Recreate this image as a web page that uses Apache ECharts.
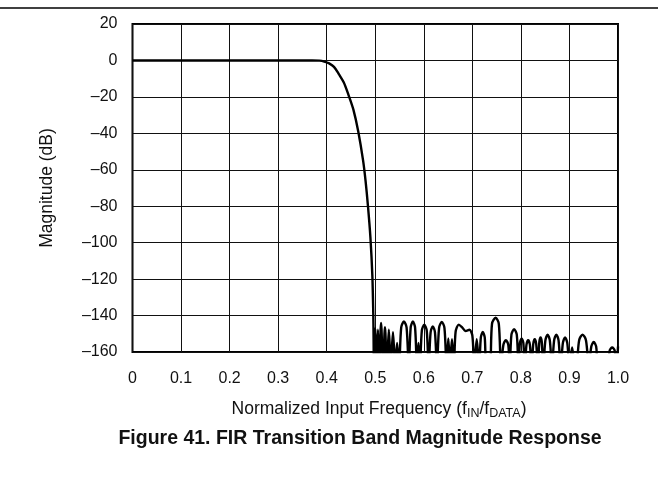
<!DOCTYPE html>
<html>
<head>
<meta charset="utf-8">
<script src="https://cdn.jsdelivr.net/npm/echarts@6/dist/echarts.min.js"></script>
<style>
html,body{margin:0;padding:0;background:#fff;}
#chart{width:658px;height:493px;}
</style>
</head>
<body>
<div id="chart"></div>
<script>
// ---- data ----
var xTickValues = [0, 0.1, 0.2, 0.3, 0.4, 0.5, 0.6, 0.7, 0.8, 0.9, 1.0];
var xTickLabels = ['0', '0.1', '0.2', '0.3', '0.4', '0.5', '0.6', '0.7', '0.8', '0.9', '1.0'];
var yTickValues = [20, 0, -20, -40, -60, -80, -100, -120, -140, -160];
var yTickLabels = ['20', '0', '\u201320', '\u201340', '\u201360', '\u201380', '\u2013100', '\u2013120', '\u2013140', '\u2013160'];

// passband + transition band: normalized freq and magnitude (dB)
var transitionFreq = [0, 0.37, 0.385, 0.395, 0.405, 0.415, 0.425, 0.435, 0.445, 0.455, 0.465, 0.475, 0.48, 0.485, 0.49, 0.494, 0.496];
var transitionDb   = [0, 0, -0.1, -0.6, -1.6, -3.5, -7.5, -12, -19, -27, -39, -55, -66, -80, -97, -118, -140];

// stopband ripple: nulls (deep, below the -160 dB floor), lobe flanks and lobe peaks
var stopbandFreq = [
  0.4975, 0.500, 0.503, 0.5055, 0.508, 0.512, 0.516, 0.520, 0.524, 0.528, 0.532, 0.5365, 0.541,
  0.545, 0.549, 0.5535, 0.559, 0.5645, 0.569, 0.573, 0.5775, 0.582, 0.586, 0.589, 0.592,
  0.596, 0.601, 0.606, 0.610, 0.614, 0.6185, 0.623, 0.627, 0.6315, 0.637, 0.6425, 0.647,
  0.6505, 0.654, 0.658, 0.662, 0.6655, 0.672, 0.679, 0.686, 0.694, 0.700, 0.704,
  0.709, 0.714, 0.7175, 0.7215, 0.7255, 0.729, 0.736, 0.7405, 0.748, 0.7545, 0.759,
  0.764, 0.769, 0.774, 0.777, 0.7805, 0.786, 0.7915, 0.795, 0.798, 0.8015, 0.805, 0.808,
  0.8115, 0.815, 0.8185, 0.822, 0.8255, 0.8285, 0.8315, 0.835, 0.838, 0.8405, 0.843, 0.846,
  0.8505, 0.855, 0.8595, 0.864, 0.8685, 0.873, 0.8775, 0.882, 0.8865, 0.891, 0.8955, 0.900,
  0.9055, 0.911, 0.914, 0.920, 0.927, 0.934, 0.940, 0.945, 0.950, 0.955, 0.960,
  0.978, 0.983, 0.988, 0.993, 0.997, 1.0
];
var stopbandDb = [
  -168, -147, -168, -147.7, -168, -144, -168, -146.4, -168, -147.7, -168, -149.1, -168,
  -155, -168, -146.5, -143.3, -146.5, -168, -146.5, -143.3, -146.5, -168, -155, -168,
  -148.2, -145, -148.2, -168, -149.2, -146, -149.2, -168, -146.7, -143.5, -146.7, -168,
  -152.5, -168, -153, -168, -149, -145, -146.5, -148.5, -147.8, -151, -168,
  -153, -168, -152, -149, -152, -168, -168, -144.5, -141.2, -144.5, -168,
  -156, -153.5, -156, -168, -150.5, -147.5, -150.5, -168, -155, -152.5, -155, -168,
  -156, -153.5, -156, -168, -155.5, -153, -155.5, -168, -154.5, -152, -154.5, -168,
  -153.5, -150.5, -153.5, -168, -153.5, -150.5, -153.5, -168, -155, -152, -155, -168,
  -157.5, -168, -168, -153.5, -150.5, -153.5, -168, -157, -154.5, -157, -168,
  -168, -159, -157.5, -159, -168, -157
];

var curve = [];
for (var i = 0; i < transitionFreq.length; i++) curve.push([transitionFreq[i], transitionDb[i]]);
for (var j = 0; j < stopbandFreq.length; j++) curve.push([stopbandFreq[j], stopbandDb[j]]);

var FONT = '"Liberation Sans", Arial, Helvetica, sans-serif';

var chart = echarts.init(document.getElementById('chart'), null, {renderer: 'canvas'});
chart.setOption({
  animation: false,
  backgroundColor: '#fff',
  grid: {
    left: 132.5, top: 24, right: 40, bottom: 141,
    show: true, borderColor: '#000', borderWidth: 2, backgroundColor: 'transparent'
  },
  xAxis: {
    type: 'value', min: 0, max: 1, interval: 0.1,
    axisLine: {show: false}, axisTick: {show: false},
    splitLine: {show: true, lineStyle: {color: '#111', width: 1}},
    axisLabel: {
      margin: 19, color: '#111', fontSize: 16, fontFamily: FONT,
      formatter: function (v) {
        for (var k = 0; k < xTickValues.length; k++) if (Math.abs(xTickValues[k] - v) < 1e-6) return xTickLabels[k];
        return '';
      }
    }
  },
  yAxis: {
    type: 'value', min: -160, max: 20, interval: 20,
    axisLine: {show: false}, axisTick: {show: false},
    splitLine: {show: true, lineStyle: {color: '#111', width: 1}},
    axisLabel: {
      margin: 15, color: '#111', fontSize: 16, fontFamily: FONT,
      formatter: function (v) {
        for (var k = 0; k < yTickValues.length; k++) if (Math.abs(yTickValues[k] - v) < 1e-6) return yTickLabels[k];
        return '';
      }
    }
  },
  series: [{
    type: 'line',
    data: curve,
    smooth: 0.3,
    showSymbol: false,
    clip: true,
    lineStyle: {color: '#000', width: 2.4},
    z: 5
  }],
  graphic: [
    {type: 'line', shape: {x1: 0, y1: 8, x2: 658, y2: 8}, style: {stroke: '#000', lineWidth: 1.5}},
    {type: 'text', x: 47, y: 188, rotation: Math.PI / 2,
     style: {text: 'Magnitude (dB)', align: 'center', verticalAlign: 'middle', fill: '#111', font: '17.5px ' + FONT}},
    {type: 'text', x: 379, y: 410,
     style: {
       text: '{a|Normalized Input Frequency (f}{s|IN}{a|/f}{s|DATA}{a|)}',
       align: 'center', verticalAlign: 'middle', fill: '#111',
       rich: {
         a: {fontSize: 17.5, fontFamily: FONT, fill: '#111', verticalAlign: 'top', lineHeight: 20},
         s: {fontSize: 12.5, fontFamily: FONT, fill: '#111', verticalAlign: 'bottom', lineHeight: 15, padding: [8, 0, 0, 0]}
       }
     }},
    {type: 'text', x: 360, y: 439,
     style: {text: 'Figure 41. FIR Transition Band Magnitude Response', align: 'center', verticalAlign: 'middle',
             fill: '#111', font: 'bold 19.5px ' + FONT}}
  ]
});
</script>
</body>
</html>
